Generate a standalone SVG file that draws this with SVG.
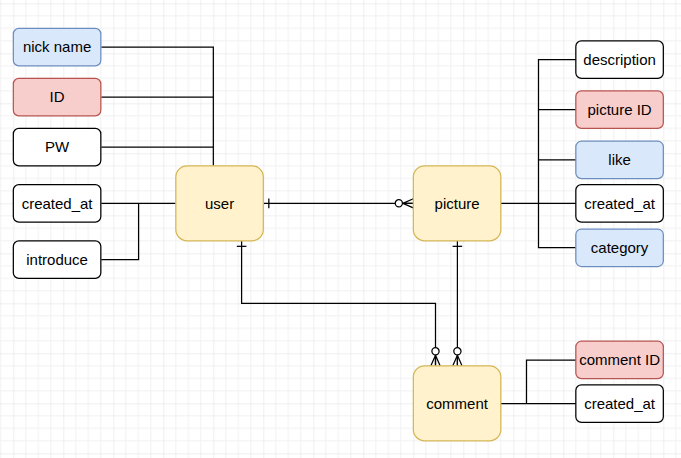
<svg xmlns="http://www.w3.org/2000/svg" width="681" height="458" viewBox="0 0 681 458">
<defs>
<pattern id="grid" patternUnits="userSpaceOnUse" x="13.33" y="3.33" width="50" height="50">
<path d="M12.5 0V50M25 0V50M37.5 0V50M0 12.5H50M0 25H50M0 37.5H50" stroke="#f1f1f1" stroke-width="1" fill="none"/>
<path d="M0 0V50M0 0H50" stroke="#e0e0e0" stroke-width="1" fill="none"/>
</pattern>
<marker id="one" markerUnits="userSpaceOnUse" orient="auto" refX="0" refY="0" markerWidth="20" markerHeight="20" overflow="visible">
<path d="M5.5 -4.8V4.8" stroke="#000" stroke-width="1.25" fill="none"/>
</marker>
<marker id="zeroMany" markerUnits="userSpaceOnUse" orient="auto" refX="0" refY="0" markerWidth="30" markerHeight="20" overflow="visible">
<path d="M-10.5 0L0 -4.6M-10.5 0L0 4.6M-10.5 0H0" stroke="#000" stroke-width="1.25" fill="none"/>
<circle cx="-14.5" cy="0" r="3.6" fill="#fff" stroke="#000" stroke-width="1.25"/>
</marker>
</defs>
<style>
.attr rect{fill:#fff;stroke:#000;stroke-width:1.25}
.attr.blue rect{fill:#dae8fc;stroke:#6c8ebf}
.attr.red rect{fill:#f8cecc;stroke:#b85450}
.ent rect{fill:#fff2cc;stroke:#d6b656;stroke-width:1.25}
text{font-family:"Liberation Sans",Arial,Helvetica,sans-serif;font-size:15px;fill:#000;text-anchor:middle}
.conn path{fill:none;stroke:#000;stroke-width:1.25}
</style>
<rect width="681" height="458" fill="#fff"/>
<rect width="681" height="458" fill="url(#grid)"/>
<g class="conn" id="connectors">
<path d="M101.33 47.08H213.33V165.83"/>
<path d="M101.33 97.08H213.33"/>
<path d="M101.33 147.08H213.33"/>
<path d="M101.33 203.33H175.83"/>
<path d="M101.33 259.58H138.6V203.33"/>
<path d="M263.33 203.33H413.33" marker-start="url(#one)" marker-end="url(#zeroMany)"/>
<path d="M241.6 240.83V303.3H435.5V365.83" marker-start="url(#one)" marker-end="url(#zeroMany)"/>
<path d="M457.4 240.83V365.83" marker-start="url(#one)" marker-end="url(#zeroMany)"/>
<path d="M500.83 203.33H575.83"/>
<path d="M575.83 59.58H538.5V247.7H575.83"/>
<path d="M538.5 109.58H575.83"/>
<path d="M538.5 159.9H575.83"/>
<path d="M500.83 403.58H575.83"/>
<path d="M575.83 360H526.5V403.58"/>
</g>
<g id="nick_name" class="attr blue"><rect x="13.33" y="28.33" width="87.5" height="37.5" rx="5.6"/><text x="57.1" y="52.4">nick name</text></g>
<g id="ID" class="attr red"><rect x="13.33" y="78.33" width="87.5" height="37.5" rx="5.6"/><text x="57.1" y="102.4">ID</text></g>
<g id="PW" class="attr"><rect x="13.33" y="128.33" width="87.5" height="37.5" rx="5.6"/><text x="57.1" y="152.4">PW</text></g>
<g id="user_created_at" class="attr"><rect x="13.33" y="184.58" width="87.5" height="37.5" rx="5.6"/><text x="57.1" y="208.6">created_at</text></g>
<g id="introduce" class="attr"><rect x="13.33" y="240.83" width="87.5" height="37.5" rx="5.6"/><text x="57.1" y="264.9">introduce</text></g>
<g id="user" class="ent"><rect x="175.83" y="165.83" width="87.5" height="75" rx="11.25"/><text x="219.6" y="208.6">user</text></g>
<g id="picture" class="ent"><rect x="413.33" y="165.83" width="87.5" height="75" rx="11.25"/><text x="457.1" y="208.6">picture</text></g>
<g id="comment" class="ent"><rect x="413.33" y="365.83" width="87.5" height="75" rx="11.25"/><text x="457.1" y="408.9">comment</text></g>
<g id="description" class="attr"><rect x="575.83" y="40.83" width="87.5" height="37.5" rx="5.6"/><text x="619.6" y="64.9">description</text></g>
<g id="picture_ID" class="attr red"><rect x="575.83" y="90.83" width="87.5" height="37.5" rx="5.6"/><text x="619.6" y="114.9">picture ID</text></g>
<g id="like" class="attr blue"><rect x="575.83" y="141.2" width="87.5" height="37.5" rx="5.6"/><text x="619.6" y="165.2">like</text></g>
<g id="picture_created_at" class="attr"><rect x="575.83" y="184.58" width="87.5" height="37.5" rx="5.6"/><text x="619.6" y="208.6">created_at</text></g>
<g id="category" class="attr blue"><rect x="575.83" y="229" width="87.5" height="37.5" rx="5.6"/><text x="619.6" y="253">category</text></g>
<g id="comment_ID" class="attr red"><rect x="575.83" y="341.2" width="87.5" height="37.5" rx="5.6"/><text x="619.6" y="365.2">comment ID</text></g>
<g id="comment_created_at" class="attr"><rect x="575.83" y="384.83" width="87.5" height="37.5" rx="5.6"/><text x="619.6" y="408.9">created_at</text></g>
</svg>
